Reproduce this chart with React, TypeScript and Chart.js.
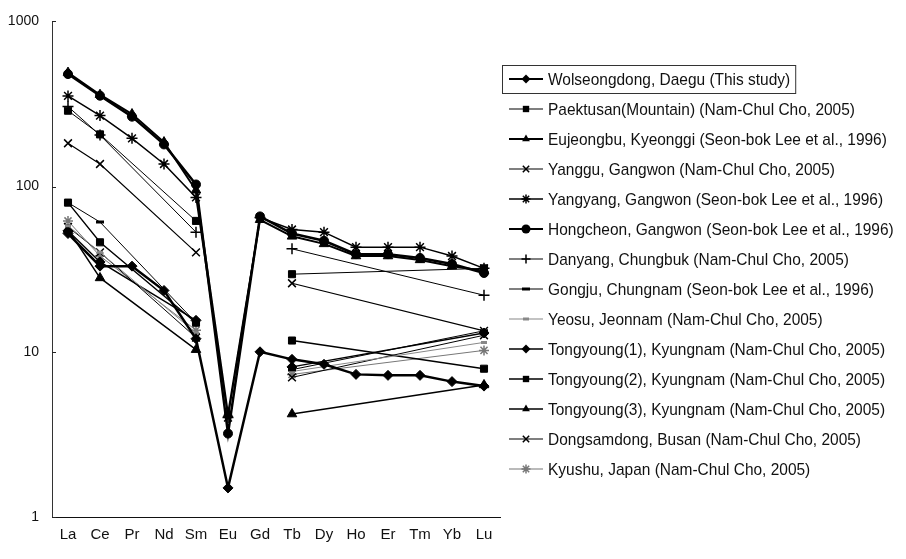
import React, { useEffect, useRef } from 'react';
import { Chart, registerables } from 'chart.js';

Chart.register(...registerables);

// ---------- data ----------
const elements = ['La', 'Ce', 'Pr', 'Nd', 'Sm', 'Eu', 'Gd', 'Tb', 'Dy', 'Ho', 'Er', 'Tm', 'Yb', 'Lu'];
const yTickValues = [1, 10, 100, 1000];

const wolseongdong = [52, 33, 33, 23.5, 12, 1.5, 10, 9.0, 8.4, 7.3, 7.2, 7.2, 6.6, 6.2];
const paektusan = [288, 207, null, null, 62, null, null, 29.5, null, null, null, null, null, 32];
const eujeongbu = [490, 360, 275, 186, 95, 4.2, 63, 50, 45, 38, 38, 36, 33, 31];
const yanggu = [183, 137, null, null, 40, null, null, 26, null, null, null, null, null, 13.4];
const yangyang = [354, 269, 196, 137, 86, 4.0, 65, 55, 53, 43, 43, 43, 38, 32];
const hongcheon = [480, 355, 265, 180, 103, 3.2, 66, 52, 47, 39, 39, 37, 34, 30];
const danyang = [305, 205, null, null, 53, null, null, 42, null, null, null, null, null, 22];
const gongju = [80, 61, null, null, 15, null, null, 7.8, null, null, null, null, null, 13.4];
const yeosu = [58, 40, null, null, 13, null, null, 7.6, null, null, null, null, null, 11.4];
const tongyoung1 = [54, 35, null, null, 15.5, null, null, 8.1, null, null, null, null, null, 13.0];
const tongyoung2 = [80, 46, null, null, 15, null, null, 11.7, null, null, null, null, null, 7.9];
const tongyoung3 = [55, 28, null, null, 10.3, null, null, 4.2, null, null, null, null, null, 6.3];
const dongsamdong = [57, 40, null, null, 12.2, null, null, 7.0, null, null, null, null, null, 12.6];
const kyushu = [62, 38, null, null, 13.5, null, null, 7.3, null, null, null, null, null, 10.2];

const seriesNames = [
  'Wolseongdong, Daegu (This study)',
  'Paektusan(Mountain) (Nam-Chul Cho, 2005)',
  'Eujeongbu, Kyeonggi (Seon-bok Lee et al., 1996)',
  'Yanggu, Gangwon (Nam-Chul Cho, 2005)',
  'Yangyang, Gangwon (Seon-bok Lee et al., 1996)',
  'Hongcheon, Gangwon (Seon-bok Lee et al., 1996)',
  'Danyang, Chungbuk (Nam-Chul Cho, 2005)',
  'Gongju, Chungnam (Seon-bok Lee et al., 1996)',
  'Yeosu, Jeonnam (Nam-Chul Cho, 2005)',
  'Tongyoung(1), Kyungnam (Nam-Chul Cho, 2005)',
  'Tongyoung(2), Kyungnam (Nam-Chul Cho, 2005)',
  'Tongyoung(3), Kyungnam (Nam-Chul Cho, 2005)',
  'Dongsamdong, Busan (Nam-Chul Cho, 2005)',
  'Kyushu, Japan (Nam-Chul Cho, 2005)',
];
const seriesValues = [
  wolseongdong, paektusan, eujeongbu, yanggu, yangyang, hongcheon, danyang,
  gongju, yeosu, tongyoung1, tongyoung2, tongyoung3, dongsamdong, kyushu,
];

// ---------- styles ----------
const seriesMarkers = ['rectRot', 'rect', 'triangle', 'crossRot', 'star', 'circle', 'cross', 'line', 'line', 'rectRot', 'rect', 'triangle', 'crossRot', 'star'];
const seriesColors = ['#000', '#000', '#000', '#000', '#000', '#000', '#000', '#000', '#888', '#000', '#000', '#000', '#000', '#777'];
const seriesWidths = [2.5, 1, 2, 1.2, 1.5, 2.5, 1, 1, 1, 1.4, 1.4, 1.4, 1, 1];
const markerRadius = [5, 5, 5.5, 5.5, 5.5, 4.5, 5.5, 4, 3, 5, 5, 5.5, 5.5, 5];

const FONT = '"Liberation Sans", Arial, sans-serif';
const EU_INDEX = elements.indexOf('Eu');

function drawMarker(ctx: CanvasRenderingContext2D, style: string, x: number, y: number, r: number, color: string) {
  ctx.save();
  ctx.fillStyle = color;
  ctx.strokeStyle = color;
  ctx.lineWidth = 1.5;
  ctx.beginPath();
  const d = r * Math.SQRT1_2;
  switch (style) {
    case 'rectRot':
      ctx.moveTo(x, y - r); ctx.lineTo(x + r, y); ctx.lineTo(x, y + r); ctx.lineTo(x - r, y); ctx.closePath(); ctx.fill();
      break;
    case 'rect':
      ctx.rect(x - d, y - d, 2 * d, 2 * d); ctx.fill();
      break;
    case 'triangle':
      ctx.moveTo(x, y - r); ctx.lineTo(x + r * 0.87, y + r * 0.5); ctx.lineTo(x - r * 0.87, y + r * 0.5); ctx.closePath(); ctx.fill();
      break;
    case 'circle':
      ctx.arc(x, y, r, 0, Math.PI * 2); ctx.fill();
      break;
    case 'cross':
      ctx.moveTo(x - r, y); ctx.lineTo(x + r, y); ctx.moveTo(x, y - r); ctx.lineTo(x, y + r); ctx.stroke();
      break;
    case 'crossRot':
      ctx.moveTo(x - d, y - d); ctx.lineTo(x + d, y + d); ctx.moveTo(x - d, y + d); ctx.lineTo(x + d, y - d); ctx.stroke();
      break;
    case 'star':
      ctx.moveTo(x - r, y); ctx.lineTo(x + r, y); ctx.moveTo(x, y - r); ctx.lineTo(x, y + r);
      ctx.moveTo(x - d, y - d); ctx.lineTo(x + d, y + d); ctx.moveTo(x - d, y + d); ctx.lineTo(x + d, y - d); ctx.stroke();
      break;
    case 'line':
      ctx.lineWidth = 3;
      ctx.moveTo(x - r, y); ctx.lineTo(x + r, y); ctx.stroke();
      break;
  }
  ctx.restore();
}

const overlayPlugin = {
  id: 'overlay',
  afterDraw(chart: any) {
    const ctx: CanvasRenderingContext2D = chart.ctx;
    const area = chart.chartArea;
    const yScale = chart.scales.y;

    // small inner tick marks on the value axis
    ctx.save();
    ctx.strokeStyle = '#222';
    ctx.lineWidth = 1;
    yTickValues.forEach((v) => {
      const py = Math.round(yScale.getPixelForValue(v)) + 0.5;
      ctx.beginPath();
      ctx.moveTo(area.left, py);
      ctx.lineTo(area.left + 4, py);
      ctx.stroke();
    });
    ctx.restore();

    // legend
    const left = area.right + 2;
    const lineStart = left + 7;
    const lineEnd = left + 41;
    const textX = left + 46;
    const rowY0 = 79;
    const rowStep = 30;
    seriesNames.forEach((name, i) => {
      const y = rowY0 + rowStep * i;
      const color = seriesColors[i];
      ctx.save();
      ctx.strokeStyle = color;
      ctx.lineWidth = Math.min(2, Math.max(1.2, seriesWidths[i]));
      ctx.beginPath();
      ctx.moveTo(lineStart, y);
      ctx.lineTo(lineEnd, y);
      ctx.stroke();
      ctx.restore();
      drawMarker(ctx, seriesMarkers[i], (lineStart + lineEnd) / 2, y, Math.min(4.5, markerRadius[i]), color);

      ctx.save();
      ctx.font = `17px ${FONT}`;
      ctx.fillStyle = '#111';
      ctx.textBaseline = 'middle';
      ctx.textAlign = 'left';
      const sx = 0.91;
      const w = ctx.measureText(name).width * sx;
      ctx.translate(textX, y + 1);
      ctx.scale(sx, 1);
      ctx.fillText(name, 0, 0);
      ctx.restore();

      if (i === 0) {
        ctx.save();
        ctx.strokeStyle = '#333';
        ctx.lineWidth = 1;
        ctx.strokeRect(left + 0.5, y - 13.5, textX + w + 5 - left, 28);
        ctx.restore();
      }
    });
  },
};

export default function App() {
  const canvasRef = useRef<HTMLCanvasElement | null>(null);

  useEffect(() => {
    const canvas = canvasRef.current;
    if (!canvas) return;

    const datasets = seriesNames.map((name, i) => {
      const values = seriesValues[i];
      return {
        label: name,
        data: values,
        borderColor: seriesColors[i],
        backgroundColor: seriesColors[i],
        borderWidth: seriesWidths[i],
        pointStyle: seriesMarkers[i] as any,
        pointRadius: markerRadius[i],
        pointBackgroundColor: seriesColors[i],
        pointBorderColor: seriesColors[i],
        pointBorderWidth: seriesMarkers[i] === 'line' ? 3 : ['cross', 'crossRot', 'star'].includes(seriesMarkers[i]) ? 1.5 : 1,
        tension: 0,
        fill: false,
        spanGaps: true,
        segment: {
          // the line is broken where a series has no Eu value (gap across Eu / Gd)
          borderColor: (ctx: any) => {
            const j = ctx.p1DataIndex;
            let k = j - 1;
            while (k >= 0 && values[k] == null) k--;
            return k < EU_INDEX && j > EU_INDEX ? 'rgba(0,0,0,0)' : undefined;
          },
        },
      };
    });

    const chart = new Chart(canvas, {
      type: 'line',
      data: { labels: elements, datasets },
      options: {
        animation: false,
        responsive: false,
        maintainAspectRatio: false,
        devicePixelRatio: 1,
        layout: { padding: { top: 14, right: 406, left: 0, bottom: 0 } },
        plugins: {
          legend: { display: false },
          tooltip: { enabled: false },
        },
        scales: {
          x: {
            type: 'category',
            offset: true,
            grid: { display: false, drawTicks: false },
            border: { display: true, color: '#111', width: 1 },
            ticks: {
              color: '#111',
              font: { family: FONT, size: 15 },
              padding: 9,
              maxRotation: 0,
              autoSkip: false,
            },
            afterFit: (s: any) => {
              s.height = 42;
            },
          },
          y: {
            type: 'logarithmic',
            min: 1,
            max: 1000,
            grid: { display: false, drawTicks: false },
            border: { display: true, color: '#333', width: 1 },
            ticks: {
              color: '#111',
              font: { family: FONT, size: 14 },
              padding: 13,
              callback: (v: any) => String(v),
            },
            afterBuildTicks: (s: any) => {
              s.ticks = yTickValues.map((v) => ({ value: v }));
            },
            afterFit: (s: any) => {
              s.width = 52;
            },
          },
        },
      },
      plugins: [overlayPlugin],
    });

    return () => chart.destroy();
  }, []);

  return (
    <div style={{ position: 'absolute', left: 0, top: 0, width: 906, height: 559, background: '#fff' }}>
      <canvas ref={canvasRef} width={906} height={559} style={{ display: 'block' }} />
    </div>
  );
}
